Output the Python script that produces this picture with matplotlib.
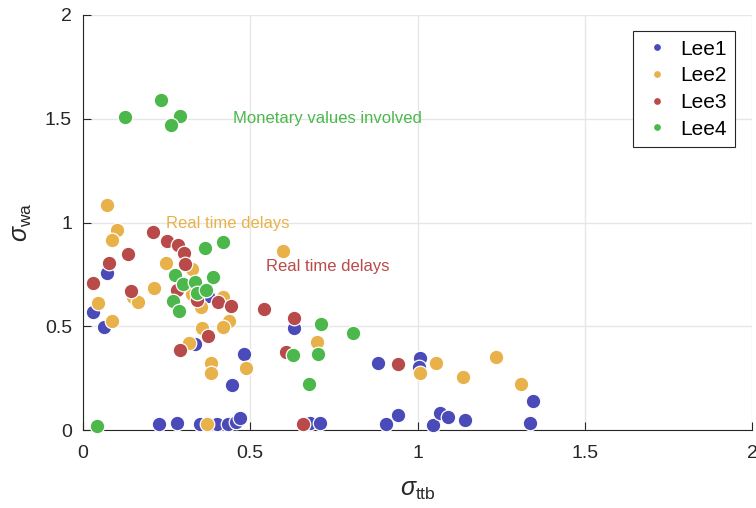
import matplotlib
matplotlib.use("Agg")
import matplotlib.pyplot as plt
from matplotlib.ticker import FormatStrFormatter

plt.rcParams['font.family'] = ['Liberation Sans', 'DejaVu Sans']
plt.rcParams['mathtext.fontset'] = 'custom'
plt.rcParams['mathtext.rm'] = 'Liberation Sans'
plt.rcParams['mathtext.it'] = 'Liberation Sans:italic'

# sigma_ttb / sigma_wa per participant group
lee1_x = [0.072, 0.030, 0.063, 0.335, 0.374, 0.482, 0.446, 0.228, 0.281, 0.350,
          0.401, 0.434, 0.458, 0.470, 0.632, 0.883, 1.006, 1.003, 0.680, 0.707,
          0.907, 0.943, 1.045, 1.066, 1.090, 1.141, 1.335, 1.344]
lee1_y = [0.755, 0.567, 0.495, 0.413, 0.644, 0.365, 0.216, 0.029, 0.034, 0.029,
          0.029, 0.029, 0.038, 0.058, 0.490, 0.322, 0.346, 0.303, 0.034, 0.034,
          0.029, 0.072, 0.024, 0.082, 0.062, 0.048, 0.034, 0.139]

lee2_x = [0.072, 0.102, 0.087, 0.249, 0.213, 0.045, 0.150, 0.165, 0.087, 0.326,
          0.326, 0.353, 0.419, 0.437, 0.419, 0.356, 0.317, 0.383, 0.383, 0.488,
          0.371, 0.599, 0.698, 1.054, 1.006, 1.135, 1.234, 1.308]
lee2_y = [1.082, 0.966, 0.918, 0.803, 0.683, 0.611, 0.639, 0.615, 0.524, 0.774,
          0.654, 0.591, 0.639, 0.524, 0.495, 0.490, 0.418, 0.322, 0.274, 0.298,
          0.029, 0.861, 0.423, 0.322, 0.274, 0.255, 0.351, 0.221]

lee3_x = [0.210, 0.251, 0.284, 0.302, 0.305, 0.135, 0.078, 0.030, 0.144, 0.281,
          0.341, 0.404, 0.443, 0.542, 0.632, 0.374, 0.290, 0.608, 0.943, 0.659]
lee3_y = [0.952, 0.909, 0.894, 0.851, 0.798, 0.846, 0.803, 0.707, 0.668, 0.673,
          0.625, 0.615, 0.596, 0.582, 0.538, 0.452, 0.385, 0.375, 0.317, 0.029]

lee4_x = [0.126, 0.234, 0.290, 0.263, 0.042, 0.365, 0.419, 0.275, 0.299, 0.335,
          0.389, 0.341, 0.368, 0.269, 0.287, 0.710, 0.808, 0.629, 0.701, 0.677]
lee4_y = [1.510, 1.591, 1.514, 1.471, 0.019, 0.875, 0.904, 0.745, 0.702, 0.712,
          0.736, 0.659, 0.673, 0.620, 0.572, 0.510, 0.466, 0.361, 0.365, 0.221]

labels = ['Lee1', 'Lee2', 'Lee3', 'Lee4']
colors = ['#4a4ab8', '#e8b14a', '#b84a4a', '#4cb84c']

fig = plt.figure(figsize=(7.56, 5.08), dpi=100)
ax = fig.add_axes([0.1098, 0.1535, 0.885, 0.817])

series = [(lee1_x, lee1_y), (lee2_x, lee2_y), (lee3_x, lee3_y), (lee4_x, lee4_y)]
for (xs, ys), lab, c in zip(series, labels, colors):
    ax.scatter(xs, ys, s=110, c=c, edgecolors='white', linewidths=0.9,
               label=lab, zorder=3, clip_on=False)

ax.text(0.449, 1.50, 'Monetary values involved', color=colors[3], fontsize=12,
        va='center', ha='left')
ax.text(0.249, 0.995, 'Real time delays', color=colors[1], fontsize=12,
        va='center', ha='left')
ax.text(0.548, 0.79, 'Real time delays', color=colors[2], fontsize=12,
        va='center', ha='left')

ax.set_xlim(0, 2)
ax.set_ylim(0, 2)
ax.set_xticks([0, 0.5, 1, 1.5, 2])
ax.set_yticks([0, 0.5, 1, 1.5, 2])
ax.xaxis.set_major_formatter(FormatStrFormatter('%g'))
ax.yaxis.set_major_formatter(FormatStrFormatter('%g'))
ax.tick_params(direction='in', length=6, width=0.8, labelsize=14,
               colors='#262626', pad=8)
ax.tick_params(axis='x', pad=11)
ax.grid(True, color='#e6e6e6', linewidth=1.0, zorder=0)
ax.set_axisbelow(True)
for side in ['top', 'right']:
    ax.spines[side].set_visible(False)
for side in ['left', 'bottom']:
    ax.spines[side].set_color('#262626')
    ax.spines[side].set_linewidth(0.8)

ax.set_xlabel(r'$\sigma_{\rm ttb}$', fontsize=18, color='#262626', labelpad=11)
ax.set_ylabel(r'$\sigma_{\rm wa}$', fontsize=18, color='#262626', labelpad=8)

leg = ax.legend(loc='upper right', bbox_to_anchor=(0.9746, 0.961), fontsize=15,
                markerscale=0.55, handlelength=1.5, handletextpad=0.35,
                borderpad=0.4, labelspacing=0.37, borderaxespad=0,
                fancybox=False, framealpha=1, edgecolor='#262626',
                scatteryoffsets=[0.5])
leg.get_frame().set_linewidth(0.8)

fig.savefig('out.png', dpi=100)
